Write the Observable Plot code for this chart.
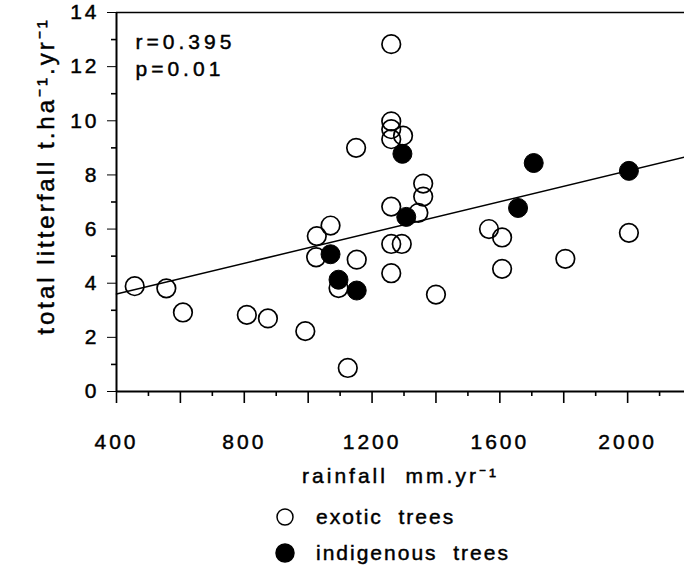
<!DOCTYPE html>
<html><head><meta charset="utf-8">
<script src="https://cdn.jsdelivr.net/npm/d3@7"></script>
<script src="https://cdn.jsdelivr.net/npm/@observablehq/plot@0.6"></script>
<style>
html,body{margin:0;padding:0;background:#fff;}
body{font-family:"Liberation Sans",Arial,sans-serif;color:#000;width:684px;}
#chart svg text{letter-spacing:3px;white-space:pre;stroke:#000;stroke-width:0.45px;}
#chart svg g.stats text{letter-spacing:4px;}
#legend{position:relative;width:684px;height:74px;font-size:21px;letter-spacing:2px;-webkit-text-stroke:0.45px #000;}
#legend .row{position:absolute;left:0;height:24px;}
#legend .row svg{position:absolute;left:274px;top:1px;}
#legend .row span{position:absolute;left:316px;white-space:pre;line-height:24px;top:0;}
</style></head><body>
<div id="chart"></div>
<div id="legend"></div>
<script>
// exotic trees (hollow circles)
const exoticRain   = [457, 556, 608, 808, 874, 991, 1027, 1025, 1070, 1095, 1124, 1150, 1152, 1260, 1260, 1260, 1260, 1297, 1260, 1345, 1360, 1360, 1260, 1293, 1260, 1400, 1566, 1607, 1607, 1805, 2004];
const exoticLitter = [3.89, 3.81, 2.92, 2.83, 2.70, 2.23, 5.74, 4.96, 6.13, 3.82, 0.87, 9.0, 4.87, 12.83, 9.98, 9.69, 9.32, 9.45, 6.83, 6.60, 7.68, 7.20, 5.45, 5.45, 4.37, 3.58, 6.0, 5.69, 4.53, 4.90, 5.86];
// indigenous trees (filled circles)
const indigRain   = [1070, 1095, 1152, 1295, 1307, 1657, 1706, 2004];
const indigLitter = [5.07, 4.13, 3.73, 8.78, 6.45, 6.78, 8.44, 8.15];
// regression line
const fitIntercept = 2.462;
const fitSlope = 0.002845;
const xDomain = [400, 2178];
const yDomain = [0, 14];
const xLabelTicks = [400, 800, 1200, 1600, 2000];
const xMajorTicks = [400, 600, 800, 1000, 1200, 1400, 1600, 1800, 2000];
const xMinorTicks = [500, 700, 900, 1100, 1300, 1500, 1700, 1900, 2100];
const yLabelTicks = [0, 2, 4, 6, 8, 10, 12, 14];
const yMinorTicks = [1, 3, 5, 7, 9, 11, 13];
const statsLines = ["r=0.395", "p=0.01"];
const xTitle = "rainfall  mm.yr\u207B\u00B9";
const yTitle = "total litterfall t.ha\u207B\u00B9.yr\u207B\u00B9";
const legendLabels = ["exotic  trees", "indigenous  trees"];
const legendFills = ["none", "black"];

const exotic = exoticRain.map((x, i) => ({x, y: exoticLitter[i]}));
const indig = indigRain.map((x, i) => ({x, y: indigLitter[i]}));

const plot = Plot.plot({
  width: 684, height: 492,
  marginLeft: 116, marginRight: 0, marginTop: 12, marginBottom: 101,
  x: {domain: xDomain},
  y: {domain: yDomain},
  style: {fontFamily: "'Liberation Sans', Arial, sans-serif", color: "#000", background: "#fff", overflow: "visible"},
  marks: [
    Plot.ruleY([yDomain[1]], {stroke: "black", strokeWidth: 1.5}),
    Plot.axisX(xMinorTicks, {tickSize: 5, tickFormat: () => "", strokeWidth: 1.6, label: null}),
    Plot.axisX(xMajorTicks, {tickSize: 12, tickFormat: () => "", strokeWidth: 1.6, label: null}),
    Plot.axisX(xLabelTicks, {tickSize: 0, tickPadding: 43, fontSize: 21, label: null, tickFormat: d => String(d)}),
    Plot.axisY(yMinorTicks, {tickSize: 5, tickFormat: () => "", strokeWidth: 1.6, label: null}),
    Plot.axisY(yLabelTicks, {tickSize: 9, tickPadding: 8, fontSize: 21, label: null, tickFormat: d => String(d)}),
    Plot.ruleX([xDomain[0]], {stroke: "black", strokeWidth: 2}),
    Plot.ruleY([yDomain[0]], {stroke: "black", strokeWidth: 2}),
    Plot.line(xDomain, {x: d => d, y: d => fitIntercept + fitSlope * d, stroke: "black", strokeWidth: 1.5}),
    Plot.dot(exotic, {x: "x", y: "y", r: 9.3, stroke: "black", fill: "none", strokeWidth: 1.7}),
    Plot.dot(indig, {x: "x", y: "y", r: 9.5, stroke: "black", fill: "black", strokeWidth: 1}),
    Plot.text([statsLines.join("\n")], {frameAnchor: "top-left", dx: 19, dy: 17, textAnchor: "start", lineAnchor: "top", fontSize: 21, lineHeight: 1.29, className: "stats"}),
    Plot.text([xTitle], {frameAnchor: "bottom", dy: 91, textAnchor: "middle", lineAnchor: "bottom", fontSize: 21}),
    Plot.text([yTitle], {frameAnchor: "left", dx: -63, dy: -26, rotate: -90, textAnchor: "middle", lineAnchor: "bottom", fontSize: 24})
  ]
});
document.getElementById("chart").appendChild(plot);

const legend = d3.select("#legend");
legendLabels.forEach((lab, i) => {
  const row = legend.append("div").attr("class", "row").style("top", (13 + i * 36) + "px").style("width", "684px");
  const s = row.append("svg").attr("width", 22).attr("height", 22);
  s.append("circle").attr("cx", 11).attr("cy", 11).attr("r", legendFills[i] === "none" ? 8 : 9)
    .attr("fill", legendFills[i]).attr("stroke", "black").attr("stroke-width", 1.5);
  row.append("span").text(lab);
});
</script>
</body></html>
